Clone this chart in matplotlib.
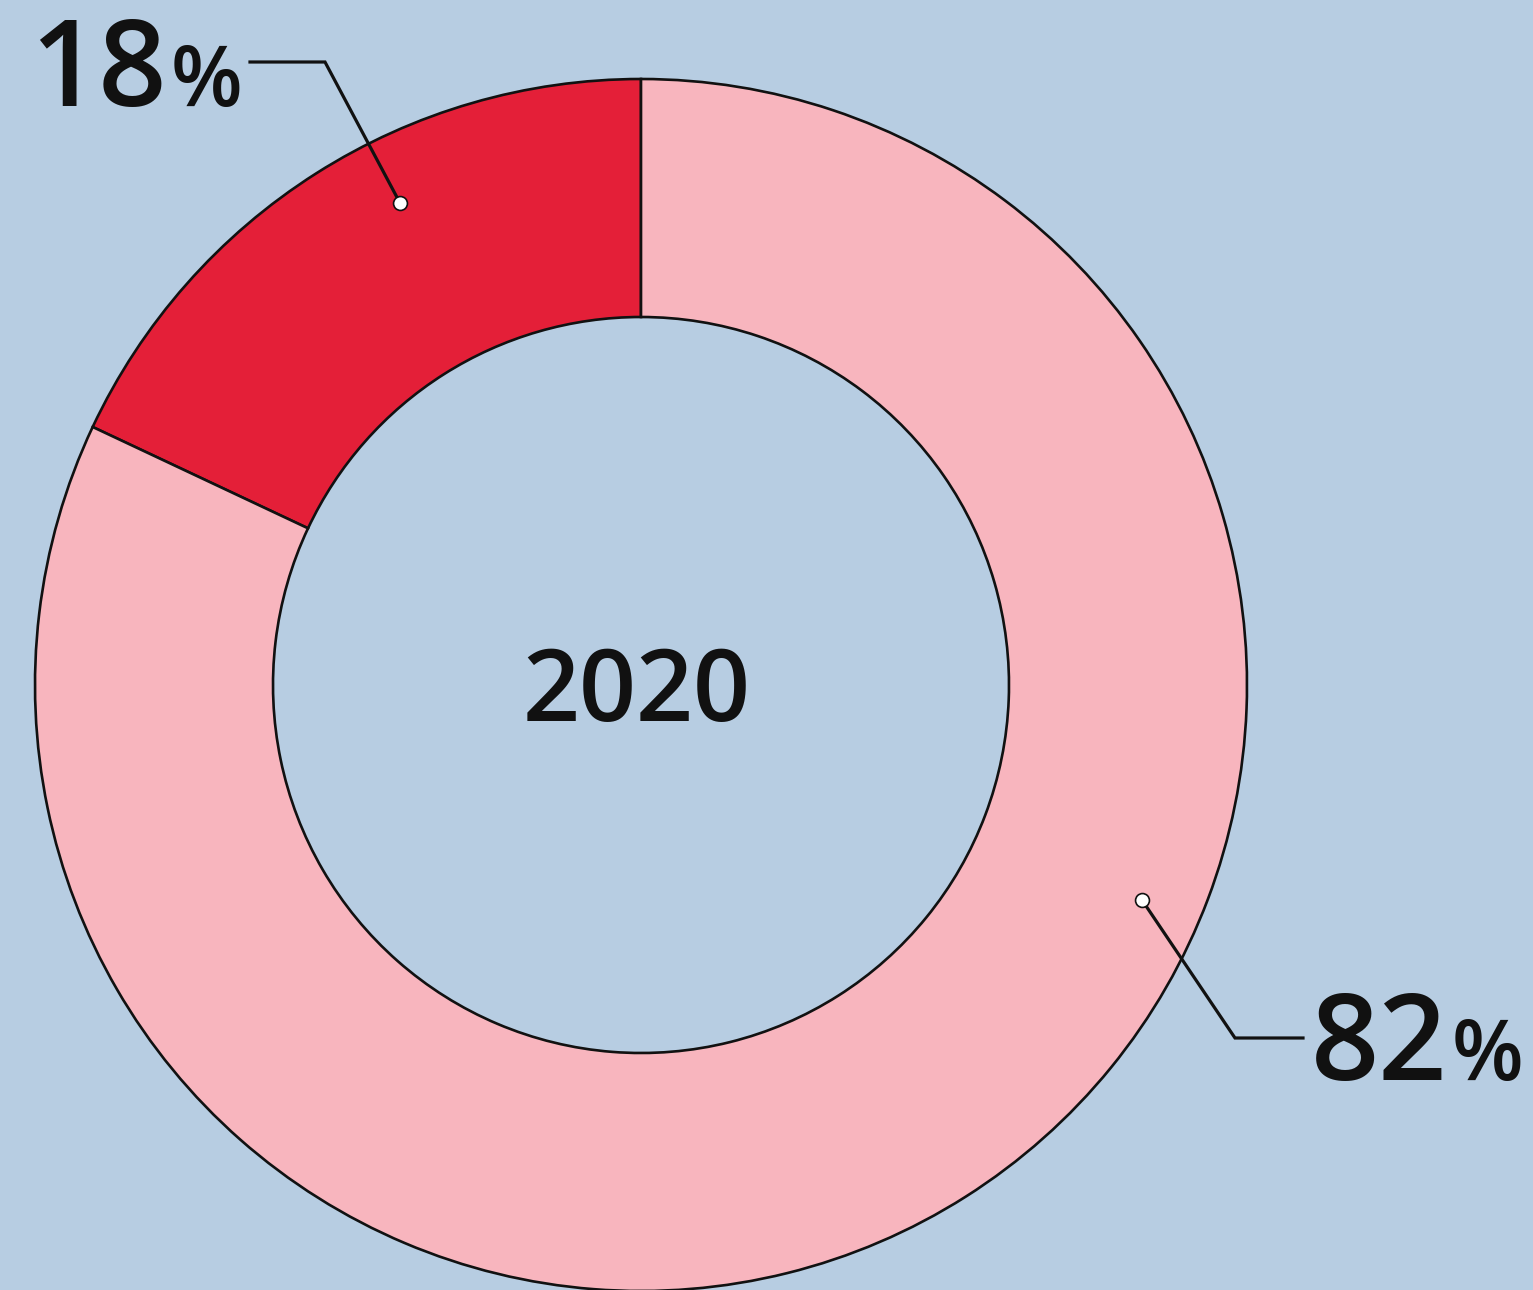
import matplotlib
matplotlib.use("Agg")
import matplotlib.pyplot as plt

# Share of the two groups in 2020
year_label = "2020"
shares = [18, 82]
share_colors = ["#E41F38", "#F8B5BE"]

W, H, DPI = 1533, 1290, 100
BG = "#B7CDE2"
INK = "#111111"

fig = plt.figure(figsize=(W / DPI, H / DPI), dpi=DPI, facecolor=BG)
ax = fig.add_axes([0, 0, 1, 1])
ax.set_facecolor(BG)


def py(y):
    """Convert a top-down pixel row into axis y."""
    return H - y


cx, cy = 641, py(685)
outer_r, inner_r = 606, 368

ax.pie(
    shares,
    colors=share_colors,
    startangle=90,
    counterclock=True,
    radius=outer_r,
    center=(cx, cy),
    frame=True,
    wedgeprops=dict(width=outer_r - inner_r, edgecolor=INK, linewidth=1.9),
)
ax.set_xlim(0, W)
ax.set_ylim(0, H)
ax.set_aspect("equal")
ax.axis("off")

font = "Open Sans"
weight = "semibold"

# Centre label
ax.text(cx - 4, py(695), year_label, ha="center", va="center",
        fontsize=72, fontweight=weight, family=font, color=INK)

renderer = fig.canvas.get_renderer()


def pct_label(x, y, value):
    """Big number followed by a smaller percent sign on the same baseline."""
    num = ax.text(x, py(y), f"{value}", ha="left", va="baseline",
                  fontsize=86, fontweight=weight, family=font, color=INK)
    bb = num.get_window_extent(renderer=renderer)
    x_end = ax.transData.inverted().transform((bb.x1, bb.y0))[0]
    ax.text(x_end + 4, py(y), "%", ha="left", va="baseline",
            fontsize=60, fontweight=weight, family=font, color=INK)


# 18 % label with leader
pct_label(30, 106, shares[0])
ax.plot([250, 325, 400], [py(62), py(62), py(203)], color=INK,
        lw=2.3, solid_joinstyle="miter", zorder=5)
ax.plot([400], [py(203)], marker="o", ms=10, mfc="white", mec=INK,
        mew=1.2, zorder=6)

# 82 % label with leader
pct_label(1311, 1080, shares[1])
ax.plot([1142, 1235, 1303], [py(900), py(1038), py(1038)], color=INK,
        lw=2.3, solid_joinstyle="miter", zorder=5)
ax.plot([1142], [py(900)], marker="o", ms=10, mfc="white", mec=INK,
        mew=1.2, zorder=6)

fig.savefig("out.png", dpi=DPI, facecolor=BG)
